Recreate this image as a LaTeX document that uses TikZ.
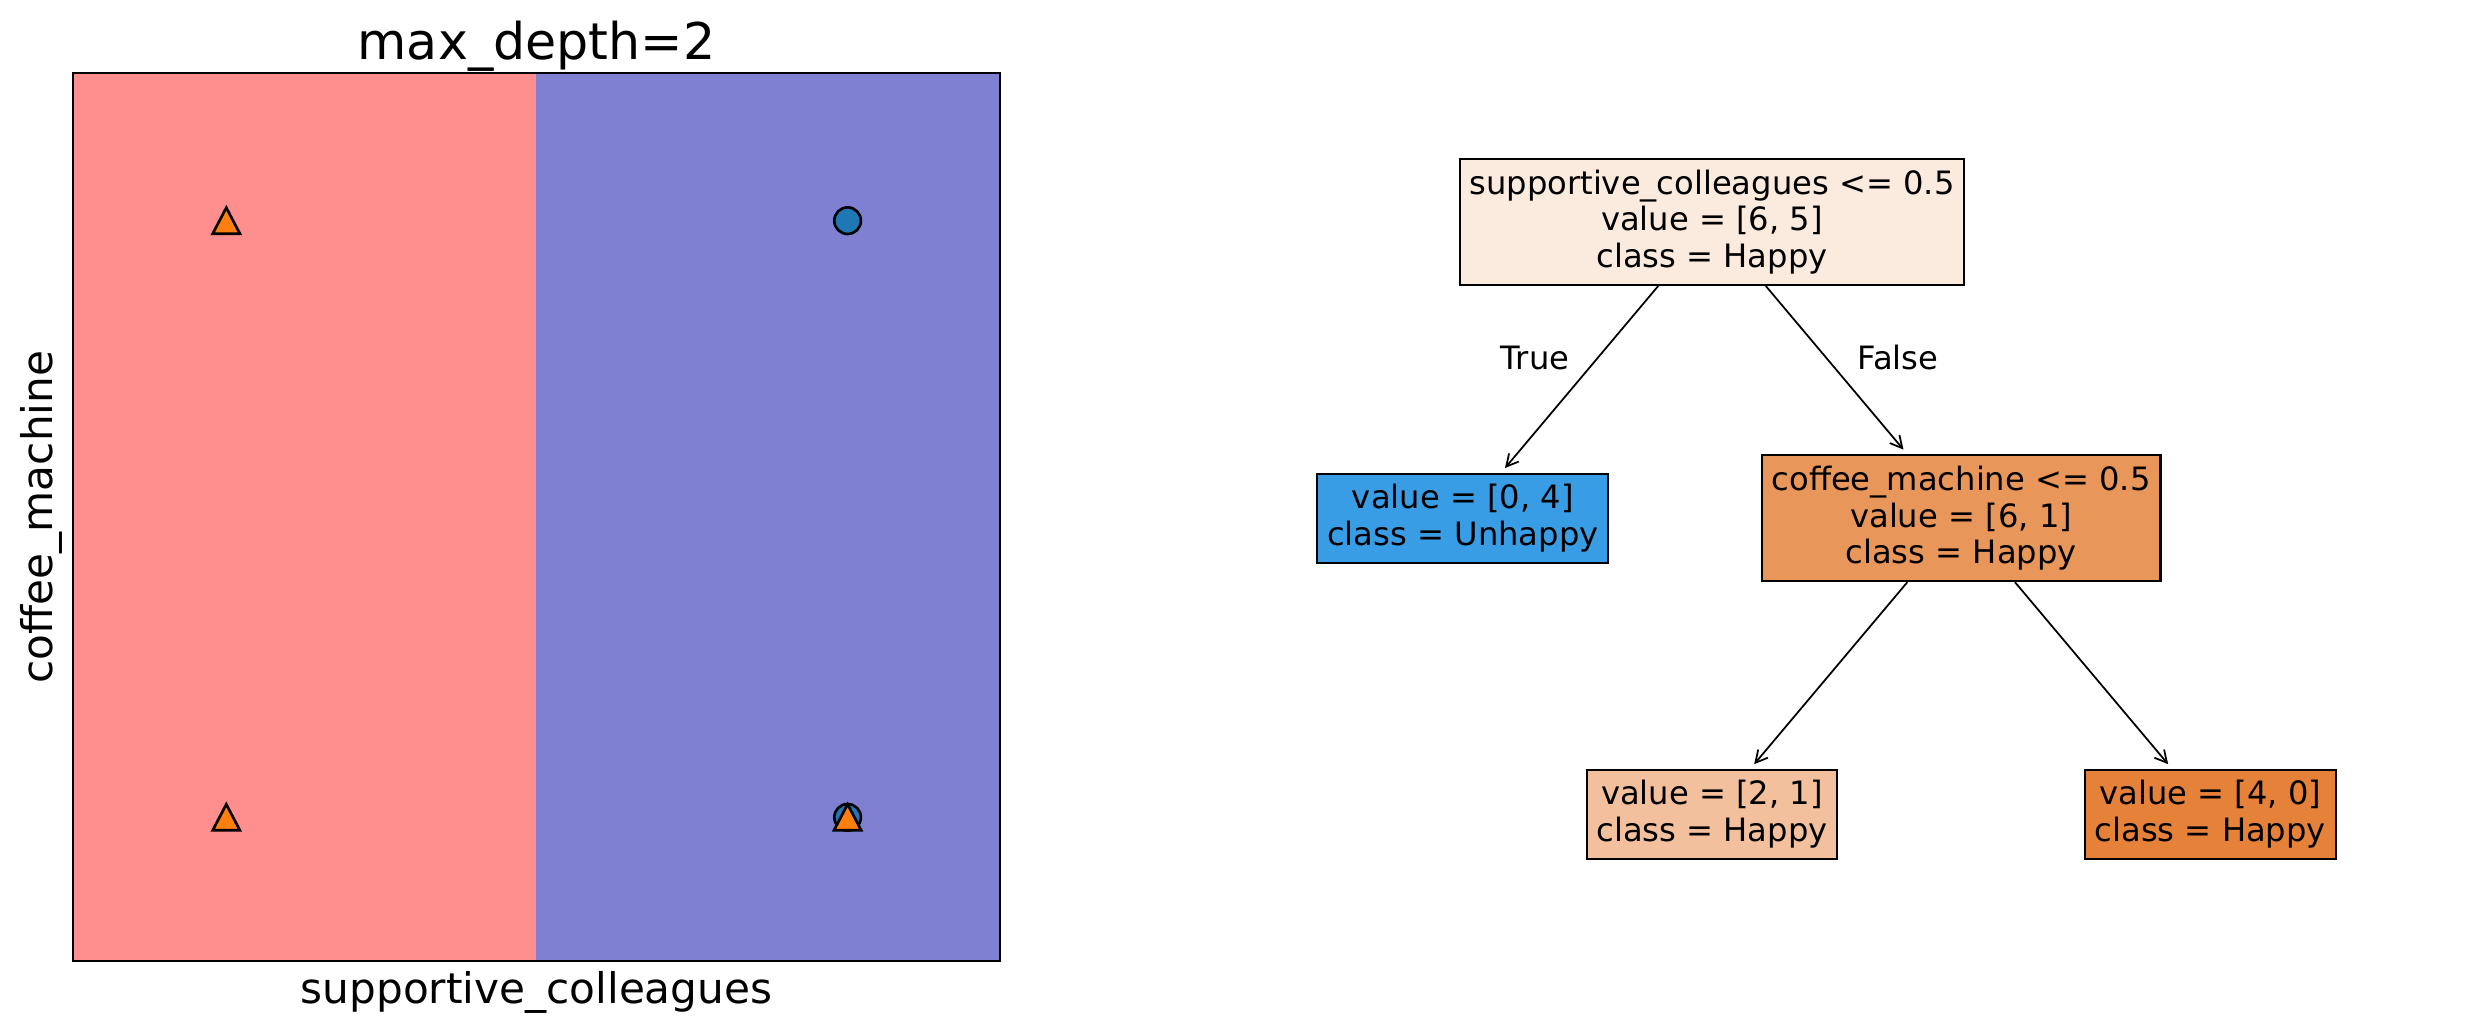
\documentclass[tikz,border=0pt]{standalone}
\usepackage{fontspec}
\setmainfont{DejaVu Sans}
\usepackage{tikz}
\usetikzlibrary{arrows.meta}
\newcommand{\treetextfont}{\fontsize{9.15}{10.43}\selectfont}
\newcommand{\axlabelfont}{\fontsize{12}{14.4}\selectfont}
\newcommand{\axtitlefont}{\fontsize{14.4}{17.3}\selectfont}
\definecolor{region_happy}{RGB}{255,142,142}
\definecolor{region_unhappy}{RGB}{128,128,210}
\definecolor{mark_orange}{HTML}{FF7F0E}
\definecolor{mark_blue}{HTML}{1F77B4}
\definecolor{fill_root}{HTML}{FBEADE}
\definecolor{fill_unhappy}{HTML}{399DE5}
\definecolor{fill_coffee}{HTML}{E9965A}
\definecolor{fill_light}{HTML}{F2C09C}
\definecolor{fill_happy}{HTML}{E58139}
\tikzset{
	treenode/.style = {
		align=center,
		rectangle,
		inner xsep=2.8pt,
		inner ysep=0pt,
		draw=black,
		line width=0.6pt,
		font=\treetextfont
	},
	node_split/.style = {
		treenode,
		minimum height=35.8pt
	},
	node_leaf/.style = {
		treenode,
		minimum height=25.3pt
	},
	edge_label/.style = {
		inner sep=0pt,
		font=\treetextfont
	},
	mark_tri/.style = {
		fill=mark_orange,
		draw=black,
		line width=0.75pt
	},
	mark_circ/.style = {
		fill=mark_blue,
		draw=black,
		line width=0.75pt
	},
}

\begin{document}
\begin{tikzpicture}[x=0.01cm, y=-0.01cm,
	level/.style={sibling distance=4.98cm, level distance=2.96cm},
	edge from parent/.style={draw, line width=0.5pt, -{Straight Barb[length=3.4pt,width=3.6pt]}, shorten >=1.7pt}]
\useasboundingbox (0,0) rectangle (2472,1034);

% decision regions
\fill[region_happy] (73.3,73.3) rectangle (535.6,961.3);
\fill[region_unhappy] (535.6,73.3) rectangle (1000,961.3);
\draw[line width=0.6pt] (73.3,73.3) rectangle (1000,961.3);

% samples
\foreach \px/\py in {847.6/220.7, 847.6/817.3}
	\draw[mark_circ] (\px,\py) circle[radius=0.133cm];
\foreach \px/\py in {226.3/220.7, 226.3/817.3, 847.6/817.3}
	\draw[mark_tri, shift={(\px,\py)}] (0,-13) -- (13.6,13) -- (-13.6,13) -- cycle;

\node[anchor=base, inner sep=0pt, font=\axtitlefont] (title) at (536.5,60) {max\_depth=2};
\node[anchor=base, inner sep=0pt, font=\axlabelfont] (xlab) at (536.5,1003) {supportive\_colleagues};
\node[rotate=90, inner sep=0pt, font=\axlabelfont] (ylab) at (41,517) {coffee\_machine};

% tree
\node [node_split, fill=fill_root] (root) at (1712,222) {supportive\_colleagues <= 0.5\\value = [6, 5]\\class = Happy}
child {
	node [node_leaf, fill=fill_unhappy] (leaf_unhappy) {value = [0, 4]\\class = Unhappy}
}
child {
	node [node_split, fill=fill_coffee] (coffee) {coffee\_machine <= 0.5\\value = [6, 1]\\class = Happy}
	child {
		node [node_leaf, fill=fill_light] (leaf_mixed) {value = [2, 1]\\class = Happy}
	}
	child {
		node [node_leaf, fill=fill_happy] (leaf_happy) {value = [4, 0]\\class = Happy}
	}
}
;
\node[edge_label] (lbl_true) at (1535,358) {True};
\node[edge_label] (lbl_false) at (1898,358) {False};
\end{tikzpicture}
\end{document}
